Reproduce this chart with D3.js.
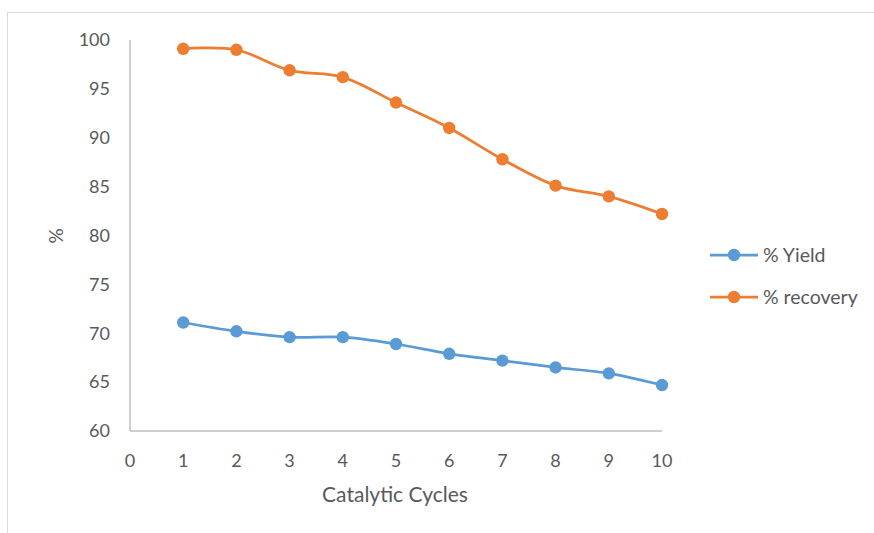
<!DOCTYPE html>
<html><head><meta charset="utf-8">
<script src="https://cdn.jsdelivr.net/npm/d3@7"></script>
<style>body{margin:0;background:#fff;}svg{display:block;font-family:Lato,"Open Sans",sans-serif;}</style>
</head><body>
<svg id="c" width="874" height="533"></svg>
<script>
const cycles = [1,2,3,4,5,6,7,8,9,10];
const yieldVals = [71.1, 70.2, 69.6, 69.6, 68.9, 67.9, 67.2, 66.5, 65.9, 64.7];
const recoveryVals = [99.1, 99.0, 96.9, 96.2, 93.6, 91.0, 87.8, 85.1, 84.0, 82.2];
const xTicks = [0,1,2,3,4,5,6,7,8,9,10];
const yTicks = [60,65,70,75,80,85,90,95,100];
const seriesNames = ["% Yield", "% recovery"];
const colors = ["#5B9BD5", "#ED7D31"];

const svg = d3.select("#c");
svg.append("rect").attr("x",7.5).attr("y",12.5).attr("width",900).attr("height",600)
  .attr("fill","#fff").attr("stroke","#d9d9d9");

const x = d3.scaleLinear().domain([0,10]).range([130,662]);
const y = d3.scaleLinear().domain([60,100]).range([431,40]);

svg.append("line").attr("x1",x(0)).attr("x2",x(0)).attr("y1",y(100)).attr("y2",y(60)).attr("stroke","#bfbfbf").attr("stroke-width",1.5);
svg.append("line").attr("x1",x(0)).attr("x2",x(10)).attr("y1",y(60)).attr("y2",y(60)).attr("stroke","#bfbfbf").attr("stroke-width",1.5);

svg.append("g").selectAll("text").data(yTicks).join("text")
  .attr("x",110).attr("y",d=>y(d)).attr("dy","0.35em").attr("text-anchor","end")
  .attr("font-size",18).attr("fill","#595959").text(d=>d);
svg.append("g").selectAll("text").data(xTicks).join("text")
  .attr("x",d=>x(d)).attr("y",461).attr("dy","0.35em").attr("text-anchor","middle")
  .attr("font-size",18).attr("fill","#595959").text(d=>d);

svg.append("text").attr("transform","translate(56,236) rotate(-90)").attr("text-anchor","middle")
  .attr("dy","0.35em").attr("font-size",19).attr("fill","#595959").text("%");
svg.append("text").attr("x",395).attr("y",495).attr("dy","0.35em").attr("text-anchor","middle")
  .attr("font-size",21).attr("fill","#595959").text("Catalytic Cycles");

const line = d3.line().x(d=>x(d[0])).y(d=>y(d[1])).curve(d3.curveCardinal.tension(0));
[yieldVals, recoveryVals].forEach((vals,i)=>{
  const pts = cycles.map((c,j)=>[c, vals[j]]);
  svg.append("path").attr("d",line(pts)).attr("fill","none").attr("stroke",colors[i]).attr("stroke-width",2.75);
  svg.append("g").selectAll("circle").data(pts).join("circle")
    .attr("cx",d=>x(d[0])).attr("cy",d=>y(d[1])).attr("r",6.2).attr("fill",colors[i]);
});

seriesNames.forEach((n,i)=>{
  const ly = 255 + i*42;
  svg.append("line").attr("x1",710).attr("x2",758).attr("y1",ly).attr("y2",ly).attr("stroke",colors[i]).attr("stroke-width",2.75);
  svg.append("circle").attr("cx",734).attr("cy",ly).attr("r",6.2).attr("fill",colors[i]);
  svg.append("text").attr("x",763).attr("y",ly).attr("dy","0.35em").attr("font-size",19.5).attr("fill","#595959").text(n);
});
</script>
</body></html>
